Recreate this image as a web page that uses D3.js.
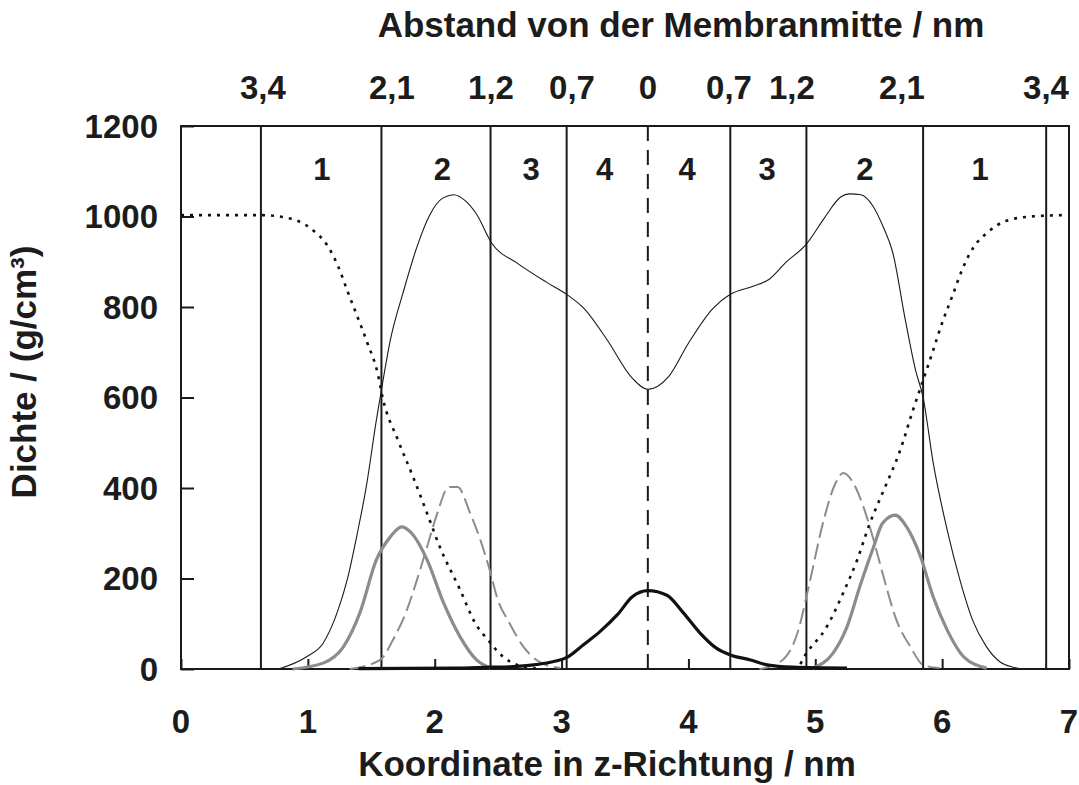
<!DOCTYPE html>
<html>
<head>
<meta charset="utf-8">
<script src="https://cdn.jsdelivr.net/npm/d3@7"></script>
<style>
  html, body { margin: 0; padding: 0; background: #fff; }
  svg text { font-family: "Liberation Sans", Arial, sans-serif; font-weight: bold; fill: #1c1c1c; }
</style>
</head>
<body>
<svg id="chart" width="1079" height="785"></svg>
<script>
// Density profiles across a lipid bilayer (z in nm, density in g/cm³·1000)

// Water (dotted)
const waterZ = [0, 0.64, 0.80, 1.02, 1.16, 1.24, 1.31, 1.39, 1.47, 1.55, 1.59, 1.71, 1.83, 1.94, 2.04, 2.20, 2.32, 2.42, 2.54, 2.65, 2.80];
const waterV = [1003, 1003, 999, 974, 933, 889, 837, 779, 720, 654, 599, 506, 424, 344, 270, 175, 101, 64, 27, 9, 1];
const waterZR = [4.75, 4.86, 4.93, 5.09, 5.22, 5.33, 5.43, 5.53, 5.67, 5.77, 5.88, 5.93, 6.00, 6.08, 6.16, 6.25, 6.35, 6.50, 6.70, 6.95];
const waterVR = [1, 5, 35, 93, 168, 241, 322, 389, 484, 572, 663, 705, 765, 824, 884, 933, 963, 990, 1000, 1003];

// Total density (thin solid)
const totalZ = [0.77, 0.99, 1.12, 1.23, 1.31, 1.39, 1.46, 1.54, 1.58, 1.65, 1.75, 1.86, 1.96, 2.06, 2.15, 2.24, 2.33, 2.45, 2.65, 2.88, 3.04, 3.18, 3.36, 3.55, 3.68, 3.84, 4.00, 4.19, 4.33, 4.51, 4.64, 4.77, 4.93, 5.07, 5.20, 5.27, 5.36, 5.45, 5.54, 5.61, 5.71, 5.79, 5.85, 5.93, 6.04, 6.14, 6.24, 6.35, 6.46, 6.56, 6.62];
const totalV = [0, 27, 57, 124, 197, 300, 402, 550, 617, 727, 831, 933, 1003, 1040, 1048, 1035, 1005, 941, 897, 855, 828, 796, 727, 645, 618, 645, 720, 796, 828, 846, 862, 899, 939, 996, 1043, 1050, 1048, 1025, 974, 921, 771, 661, 600, 455, 307, 197, 108, 49, 15, 4, 0];

// Grey solid: two peaks
const greyZ = [0.88, 1.12, 1.28, 1.41, 1.54, 1.65, 1.74, 1.83, 1.94, 2.07, 2.20, 2.33, 2.44];
const greyV = [0, 13, 49, 124, 241, 292, 314, 296, 241, 146, 71, 20, 2];
const greyZR = [4.98, 5.14, 5.25, 5.35, 5.46, 5.53, 5.63, 5.72, 5.83, 5.93, 6.04, 6.17, 6.35];
const greyVR = [2, 35, 93, 181, 270, 322, 340, 314, 248, 159, 86, 27, 2];

// Grey dashed: two peaks
const dashZ = [1.33, 1.57, 1.67, 1.78, 1.86, 1.94, 2.02, 2.11, 2.18, 2.28, 2.36, 2.44, 2.49, 2.59, 2.70, 2.83, 2.99];
const dashV = [0, 20, 64, 130, 197, 270, 344, 402, 402, 344, 285, 212, 159, 101, 49, 15, 2];
const dashZR = [4.56, 4.72, 4.86, 4.96, 5.06, 5.16, 5.22, 5.30, 5.38, 5.46, 5.53, 5.64, 5.75, 5.85, 5.98];
const dashVR = [0, 15, 80, 197, 322, 411, 433, 411, 358, 285, 212, 108, 49, 9, 2];

// Black thick: central peak
const coreZ = [1.40, 2.14, 2.44, 2.59, 2.78, 2.91, 3.05, 3.17, 3.30, 3.44, 3.56, 3.68, 3.83, 3.96, 4.09, 4.22, 4.33, 4.49, 4.62, 4.82, 5.25];
const coreV = [1, 2, 4, 5, 9, 15, 27, 53, 82, 120, 160, 173, 163, 124, 80, 46, 31, 20, 9, 4, 2];

// Region boundaries (z), membrane centre and labels
const boundaryZ = [0.63, 1.58, 2.44, 3.04, 4.33, 4.93, 5.85, 6.82];
const centreZ = 3.68;
const regionLabels = ["1", "2", "3", "4", "4", "3", "2", "1"];
const regionLabelZ = [1.11, 2.06, 2.76, 3.34, 3.99, 4.62, 5.39, 6.30];

// Distance from membrane centre (top scale)
const topLabels = ["3,4", "2,1", "1,2", "0,7", "0", "0,7", "1,2", "2,1", "3,4"];
const topLabelZ = [0.646, 1.663, 2.444, 3.082, 3.681, 4.320, 4.816, 5.683, 6.819];

const xTicks = [0, 1, 2, 3, 4, 5, 6, 7];
const yTicks = [0, 200, 400, 600, 800, 1000, 1200];

const svg = d3.select("#chart");
const x = d3.scaleLinear().domain([0, 7]).range([181, 1069]);
const y = d3.scaleLinear().domain([0, 1200]).range([669, 126]);

const line = d3.line().x(d => x(d[0])).y(d => y(d[1])).curve(d3.curveMonotoneX);
const pairs = (zs, vs) => zs.map((z, i) => [z, vs[i]]);

// Plot frame
svg.append("rect")
  .attr("x", x(0)).attr("y", y(1200))
  .attr("width", x(7) - x(0)).attr("height", y(0) - y(1200))
  .attr("fill", "none").attr("stroke", "#1a1a1a").attr("stroke-width", 2);

// Y axis (ticks inward)
const yAxis = d3.axisRight(y).tickValues(yTicks).tickSize(13).tickFormat("");
svg.append("g").attr("transform", `translate(${x(0)},0)`).call(yAxis)
  .call(g => g.select(".domain").remove())
  .call(g => g.selectAll("line").attr("stroke", "#1a1a1a").attr("stroke-width", 2));
svg.append("g").selectAll("text").data(yTicks).join("text")
  .attr("x", 158).attr("y", d => y(d)).attr("dy", "0.36em")
  .attr("text-anchor", "end").attr("font-size", 33).text(d => d);

// X axis (ticks inward)
const xAxis = d3.axisTop(x).tickValues(xTicks).tickSize(10).tickFormat("");
svg.append("g").attr("transform", `translate(0,${y(0)})`).call(xAxis)
  .call(g => g.select(".domain").remove())
  .call(g => g.selectAll("line").attr("stroke", "#1a1a1a").attr("stroke-width", 2));
svg.append("g").selectAll("text").data(xTicks).join("text")
  .attr("x", d => x(d)).attr("y", 733)
  .attr("text-anchor", "middle").attr("font-size", 33).text(d => d);

// Region boundaries
svg.append("g").selectAll("line").data(boundaryZ).join("line")
  .attr("x1", d => x(d)).attr("x2", d => x(d))
  .attr("y1", y(1200)).attr("y2", y(0))
  .attr("stroke", "#1a1a1a").attr("stroke-width", 2);
svg.append("line")
  .attr("x1", x(centreZ)).attr("x2", x(centreZ))
  .attr("y1", y(1200)).attr("y2", y(0))
  .attr("stroke", "#1a1a1a").attr("stroke-width", 2)
  .attr("stroke-dasharray", "15,9");

// Region numbers
svg.append("g").selectAll("text").data(regionLabels).join("text")
  .attr("x", (d, i) => x(regionLabelZ[i])).attr("y", 180)
  .attr("text-anchor", "middle").attr("font-size", 31).text(d => d);

// Density curves
const curves = [
  { data: pairs(totalZ, totalV), stroke: "#1a1a1a", width: 1.1, dash: null },
  { data: pairs(greyZ, greyV), stroke: "#8c8c8c", width: 3.2, dash: null },
  { data: pairs(greyZR, greyVR), stroke: "#8c8c8c", width: 3.2, dash: null },
  { data: pairs(dashZ, dashV), stroke: "#8c8c8c", width: 2, dash: "16,6" },
  { data: pairs(dashZR, dashVR), stroke: "#8c8c8c", width: 2, dash: "16,6" },
  { data: pairs(coreZ, coreV), stroke: "#111", width: 3.2, dash: null },
  { data: pairs(waterZ, waterV), stroke: "#111", width: 2.6, dash: "3,6" },
  { data: pairs(waterZR, waterVR), stroke: "#111", width: 2.6, dash: "3,6" }
];
svg.append("g").selectAll("path").data(curves).join("path")
  .attr("d", d => line(d.data))
  .attr("fill", "none")
  .attr("stroke", d => d.stroke)
  .attr("stroke-width", d => d.width)
  .attr("stroke-dasharray", d => d.dash)
  .attr("stroke-linejoin", "round");

// Top scale labels
svg.append("g").selectAll("text").data(topLabels).join("text")
  .attr("x", (d, i) => x(topLabelZ[i])).attr("y", 99)
  .attr("text-anchor", "middle").attr("font-size", 33).text(d => d);

// Titles
svg.append("text").attr("x", 681).attr("y", 37)
  .attr("text-anchor", "middle").attr("font-size", 35)
  .text("Abstand von der Membranmitte / nm");
svg.append("text").attr("x", 607).attr("y", 776)
  .attr("text-anchor", "middle").attr("font-size", 35)
  .text("Koordinate in z-Richtung / nm");
svg.append("text")
  .attr("transform", "translate(36,372) rotate(-90)")
  .attr("text-anchor", "middle").attr("font-size", 35)
  .text("Dichte / (g/cm³)");
</script>
</body>
</html>
